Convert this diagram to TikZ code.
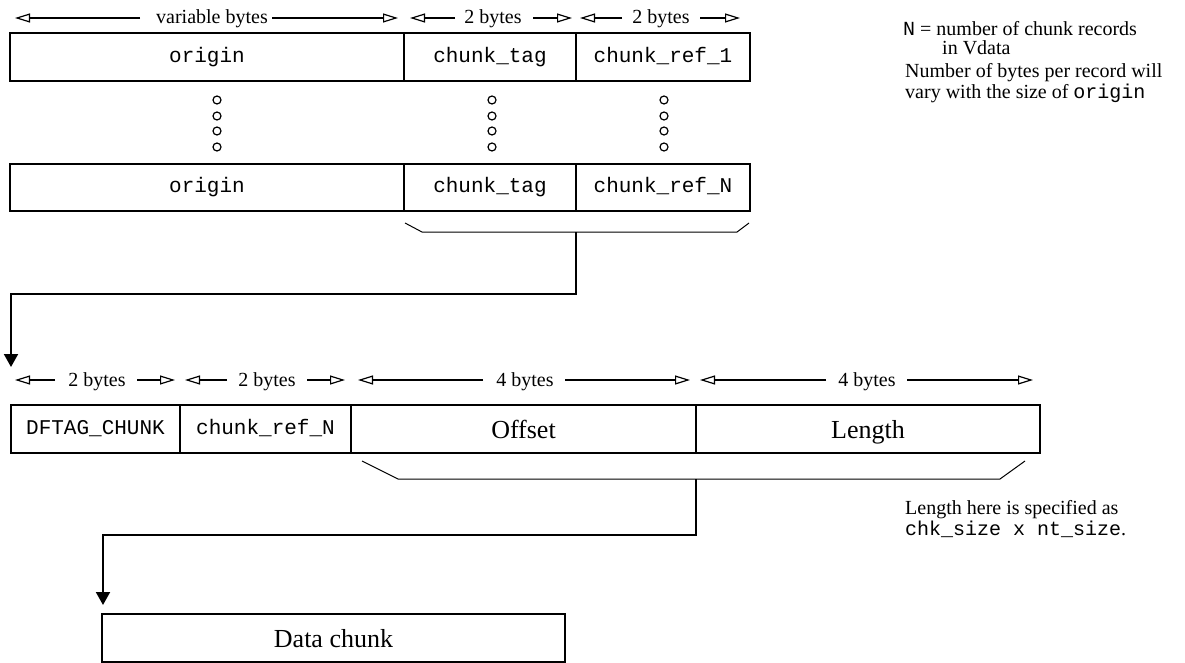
\documentclass[tikz,border=0pt]{standalone}
\usepackage{fontspec}
\setmainfont{Liberation Serif}
\setmonofont{Liberation Mono}
\usetikzlibrary{arrows.meta}
\tikzset{
  cell/.style={draw, line width=2pt, inner sep=0pt, outer sep=0pt, text height=14pt, text depth=3pt, font=\fontsize{21}{24}\selectfont\ttfamily},
  bigcell/.style={cell, text height=20pt, text depth=1pt, font=\fontsize{26}{30}\selectfont\rmfamily},
  dimlbl/.style={anchor=base, inner sep=0pt, font=\fontsize{20}{24}\selectfont},
  dimarr/.style={line width=1.3pt, -{Triangle[open, length=15pt, width=9pt, line width=1.2pt]}},
  bracel/.style={line width=1pt},
  conn/.style={line width=2pt, -{Triangle[length=13pt, width=14pt]}},
  dotc/.style={draw, circle, line width=1.2pt, inner sep=0pt, minimum size=8pt},
  note/.style={anchor=base west, inner sep=0pt, font=\fontsize{20}{24}\selectfont},
}
\begin{document}
\begin{tikzpicture}[x=1pt, y=-1pt]
\useasboundingbox (0,0) rectangle (1185,663);

% top dimension labels
\node[dimlbl] (vb) at (212,24) {variable bytes};
\node[dimlbl] (tb1) at (493,24) {2 bytes};
\node[dimlbl] (tb2) at (661,24) {2 bytes};
\draw[dimarr] (140,18) -- (15,18);
\draw[dimarr] (272,18) -- (398,18);
\draw[dimarr] (455,18) -- (410,18);
\draw[dimarr] (533,18) -- (572,18);
\draw[dimarr] (622,18) -- (580,18);
\draw[dimarr] (700,18) -- (740,18);

% row 1
\node[cell, minimum width=394pt, minimum height=48pt] (o1) at (207,57) {origin};
\node[cell, minimum width=172pt, minimum height=48pt] (t1) at (490,57) {chunk\_tag};
\node[cell, minimum width=174pt, minimum height=48pt] (r1) at (663,57) {chunk\_ref\_1};

% dots
\foreach \xx in {217,492,664}{
  \foreach \yy in {100,116,131,147}{
    \node[dotc] at (\xx,\yy) {};
  }
}

% row 2
\node[cell, minimum width=394pt, minimum height=47pt] (o2) at (207,187.5) {origin};
\node[cell, minimum width=172pt, minimum height=47pt] (t2) at (490,187.5) {chunk\_tag};
\node[cell, minimum width=174pt, minimum height=47pt] (r2) at (663,187.5) {chunk\_ref\_N};

% brace 1
\draw[bracel] (405,223) -- (422,232) -- (737,232) -- (749,223);
\coordinate (b1) at (576,232);
\coordinate (a1) at (11,367);
\draw[conn] (b1) -- (576,294) -| (a1);

% bottom dimension labels
\node[dimlbl] (bb1) at (97,386) {2 bytes};
\node[dimlbl] (bb2) at (267,386) {2 bytes};
\node[dimlbl] (bb3) at (525,386) {4 bytes};
\node[dimlbl] (bb4) at (867,386) {4 bytes};
\draw[dimarr] (55,380) -- (15,380);
\draw[dimarr] (137,380) -- (175,380);
\draw[dimarr] (227,380) -- (185,380);
\draw[dimarr] (307,380) -- (345,380);
\draw[dimarr] (483,380) -- (358,380);
\draw[dimarr] (565,380) -- (690,380);
\draw[dimarr] (826,380) -- (700,380);
\draw[dimarr] (907,380) -- (1033,380);

% row 3
\node[cell, minimum width=169pt, minimum height=48pt] (df) at (95.5,429) {DFTAG\_CHUNK};
\node[cell, minimum width=171pt, minimum height=48pt] (rn) at (265.5,429) {chunk\_ref\_N};
\node[bigcell, minimum width=345pt, minimum height=48pt] (off) at (523.5,429) {Offset};
\node[bigcell, minimum width=344pt, minimum height=48pt] (len) at (868,429) {Length};

% brace 2
\draw[bracel] (362,461) -- (398,479) -- (1000,479) -- (1025,461);
\coordinate (b2) at (696,479);
\coordinate (a2) at (103,605);
\draw[conn] (b2) -- (696,535) -| (a2);

% data chunk
\node[bigcell, minimum width=463pt, minimum height=48pt] (dc) at (333.5,638) {Data chunk};

% notes
\node[note] (n1) at (903,36) {\texttt{N} = number of chunk records};
\node[note] (n2) at (942,55) {in Vdata};
\node[note] (n3) at (905,78) {Number of bytes per record will};
\node[note] (n4) at (905,99) {vary with the size of \texttt{origin}};
\node[note] (n5) at (905,514) {Length here is specified as};
\node[note] (n6) at (905,535) {\texttt{chk\_size x nt\_size}.};
\end{tikzpicture}
\end{document}
